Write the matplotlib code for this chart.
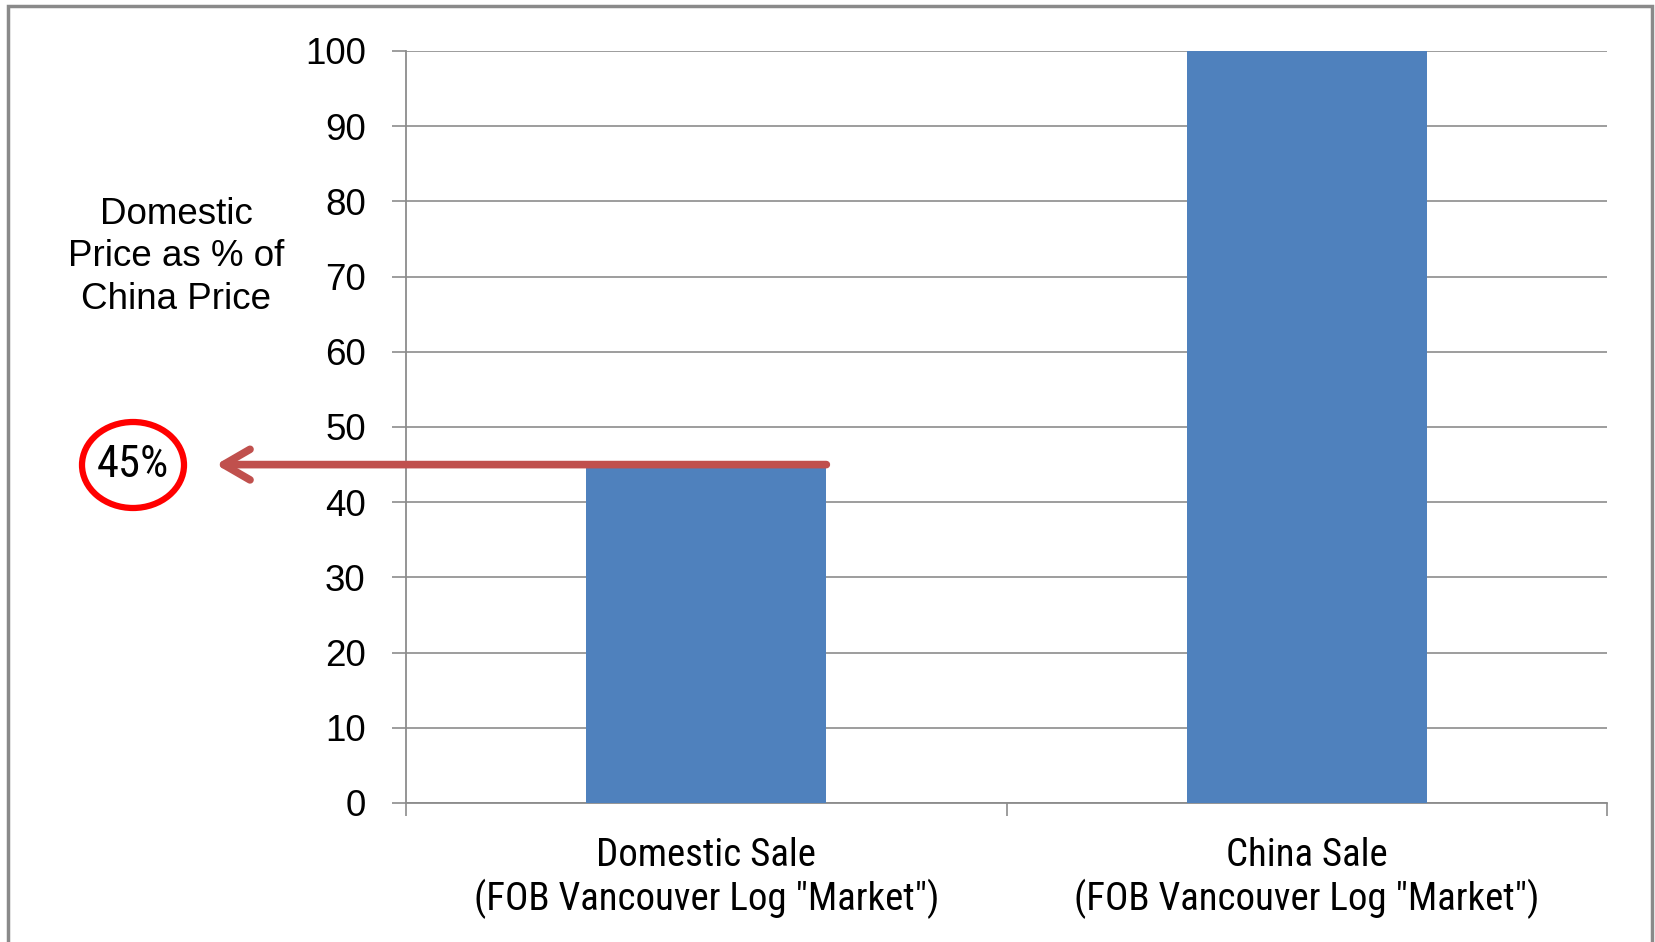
import matplotlib.pyplot as plt
from matplotlib.patches import Ellipse, Rectangle

categories = ['Domestic Sale\n(FOB Vancouver Log "Market")',
              'China Sale\n(FOB Vancouver Log "Market")']
values = [45, 100]
yticks = [0, 10, 20, 30, 40, 50, 60, 70, 80, 90, 100]
ylabel = 'Domestic\nPrice as % of\nChina Price'
callout = '45%'

bar_color = '#4F81BD'
grid_color = '#8C8C8C'
narrow = ['Liberation Sans Narrow', 'Roboto Condensed', 'Liberation Sans']

fig = plt.figure(figsize=(16.55, 9.42), dpi=100)
ax = fig.add_axes([406/1655, 1 - 803/942, (1607 - 406)/1655, (803 - 51)/942])

x = list(range(len(categories)))
ax.bar(x, values, width=0.4, color=bar_color, zorder=3)
ax.set_xlim(-0.5, len(categories) - 0.5)
ax.set_ylim(0, 100)

ax.set_yticks(yticks)
ax.set_yticklabels([str(t) for t in yticks], fontsize=26.5, family='Liberation Sans')
ax.yaxis.grid(True, color=grid_color, linewidth=1.2, zorder=0)
ax.tick_params(axis='y', length=10, width=1.2, color=grid_color, pad=19)

# category ticks sit on the boundaries, labels at centres
ax.set_xticks([i - 0.5 for i in range(len(categories) + 1)])
ax.set_xticklabels([])
ax.tick_params(axis='x', length=9, width=1.2, color=grid_color)
for i, lab in enumerate(categories):
    ax.text(i, -4.5, lab, ha='center', va='top', fontsize=28, family=narrow,
            linespacing=1.15)

for s in ['top', 'right']:
    ax.spines[s].set_visible(False)
for s in ['left', 'bottom']:
    ax.spines[s].set_color(grid_color)
    ax.spines[s].set_linewidth(1.3)

fig.text(176/1655, 1 - 257/942, ylabel, ha='center', va='center', fontsize=26.5,
         family='Liberation Sans', linespacing=1.26)

# arrow from the domestic bar top to the callout
ax.annotate('', xy=(216/1655, values[0]), xycoords=('figure fraction', 'data'),
            xytext=(0.2, values[0]), textcoords='data',
            arrowprops=dict(arrowstyle='->,head_length=1.9,head_width=1.1',
                            color='#C0504D', lw=5.5, shrinkA=0, shrinkB=0),
            annotation_clip=False, zorder=5)

fig.patches.append(Ellipse((133/1655, 1 - 465/942), 102/1655, 86/942,
                           transform=fig.transFigure, fill=False,
                           edgecolor='#FF0000', linewidth=4.5))
fig.text(133/1655, 1 - 465/942, callout, ha='center', va='center', fontsize=32,
         family=narrow)

# outer frame
fig.patches.append(Rectangle((8/1655, -0.05), (1652 - 8)/1655, 1.05 - 6/942,
                             transform=fig.transFigure, fill=False,
                             edgecolor='#8A8A8A', linewidth=2.5))

fig.savefig('out.png', dpi=100)
